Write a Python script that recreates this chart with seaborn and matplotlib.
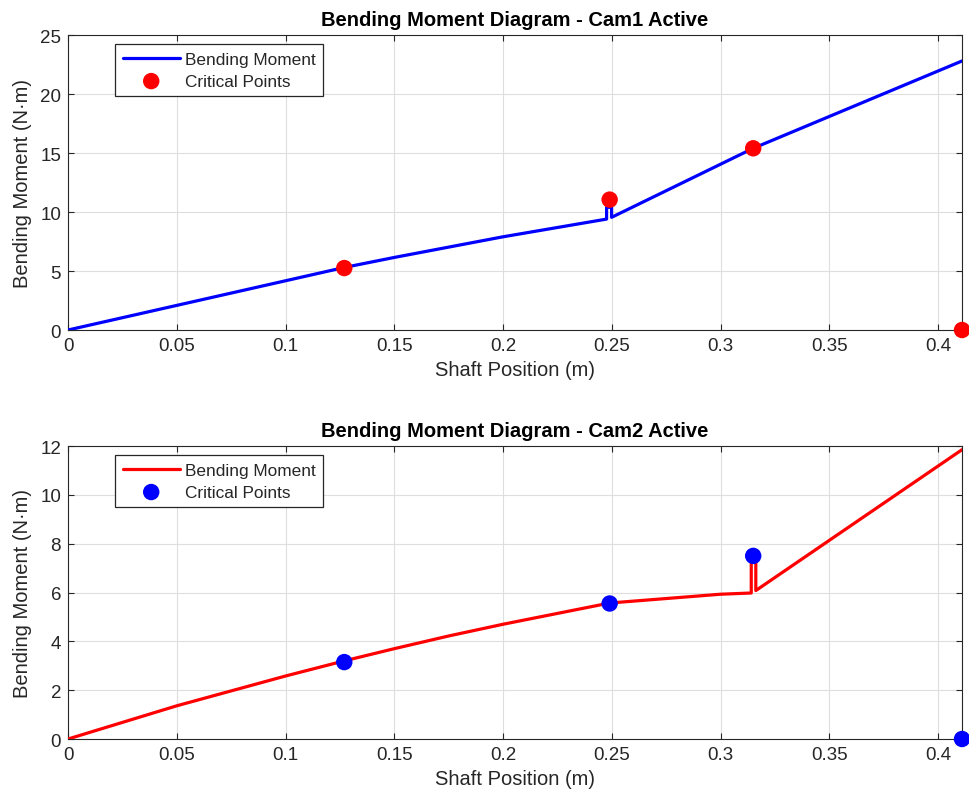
import numpy as np
import pandas as pd
import matplotlib
matplotlib.use("Agg")
import matplotlib.pyplot as plt
import seaborn as sns

# Cam1 active: bending moment along the shaft (N·m)
pos_cam1 = [0.0, 0.127, 0.15, 0.2, 0.2476, 0.2476, 0.2499, 0.2499, 0.315, 0.411]
moment_cam1 = [0.0, 5.3, 6.15, 7.9, 9.4, 10.4, 10.4, 9.55, 15.4, 22.8]
crit_pos_cam1 = [0.127, 0.249, 0.315, 0.411]
crit_moment_cam1 = [5.25, 11.05, 15.4, 0.0]

# Cam2 active
pos_cam2 = [0.0, 0.05, 0.1, 0.127, 0.15, 0.175, 0.2, 0.249, 0.3, 0.3141, 0.3141, 0.3162, 0.3162, 0.411]
moment_cam2 = [0.0, 1.36, 2.58, 3.2, 3.7, 4.22, 4.7, 5.57, 5.93, 5.98, 7.4, 7.4, 6.08, 11.85]
crit_pos_cam2 = [0.127, 0.249, 0.315, 0.411]
crit_moment_cam2 = [3.15, 5.55, 7.5, 0.0]

x_ticks = [0, 0.05, 0.1, 0.15, 0.2, 0.25, 0.3, 0.35, 0.4]
x_tick_labels = ["0", "0.05", "0.1", "0.15", "0.2", "0.25", "0.3", "0.35", "0.4"]

sns.set_theme(style="whitegrid")
plt.rcParams['font.family'] = ['Liberation Sans', 'DejaVu Sans']

TXT = '#262626'


def draw_panel(ax, pos, moment, cpos, cmom, line_color, dot_color, title, ymax, yticks):
    line_df = pd.DataFrame({"pos": pos, "moment": moment})
    crit_df = pd.DataFrame({"pos": cpos, "moment": cmom})

    sns.lineplot(data=line_df, x="pos", y="moment", ax=ax, color=line_color, linewidth=2.3,
                 estimator=None, sort=False, label="Bending Moment", zorder=3)
    sns.scatterplot(data=crit_df, x="pos", y="moment", ax=ax, color=dot_color, s=140,
                    edgecolor='none', label="Critical Points", zorder=4, clip_on=False)

    ax.set_xlim(0, 0.411)
    ax.set_ylim(0, ymax)
    ax.set_xticks(x_ticks)
    ax.set_xticklabels(x_tick_labels)
    ax.set_yticks(yticks)
    ax.set_yticklabels([str(t) for t in yticks])

    ax.set_facecolor('white')
    ax.grid(True, color='#dedede', linewidth=0.8)
    for side in ['top', 'bottom', 'left', 'right']:
        ax.spines[side].set_visible(True)
        ax.spines[side].set_color(TXT)
        ax.spines[side].set_linewidth(0.8)
    ax.tick_params(direction='in', length=4.5, width=0.8, colors=TXT, labelsize=13.5,
                   top=True, right=True, bottom=True, left=True, pad=5)

    ax.set_title(title, fontsize=14.5, fontweight='bold', color='black', pad=7)
    ax.set_xlabel("Shaft Position (m)", fontsize=14.5, color=TXT, labelpad=4)
    ax.set_ylabel("Bending Moment (N·m)", fontsize=14.5, color=TXT, labelpad=6)

    leg = ax.legend(loc='upper left', bbox_to_anchor=(0.0526, 0.97), borderaxespad=0,
                    fontsize=12.4, frameon=True, fancybox=False, edgecolor='#262626',
                    handlelength=3.3, handletextpad=0.3, borderpad=0.45, labelspacing=0.4)
    leg.get_frame().set_linewidth(0.9)
    leg.get_frame().set_facecolor('white')
    leg.get_frame().set_alpha(1)


fig = plt.figure(figsize=(9.69, 8.04), dpi=100)
fig.patch.set_facecolor('white')

ax1 = fig.add_axes([0.0702, 0.5883, 0.9226, 0.3669])
ax2 = fig.add_axes([0.0702, 0.0796, 0.9226, 0.3644])

draw_panel(ax1, pos_cam1, moment_cam1, crit_pos_cam1, crit_moment_cam1,
           '#0000ff', '#ff0000', "Bending Moment Diagram - Cam1 Active", 25, [0, 5, 10, 15, 20, 25])
draw_panel(ax2, pos_cam2, moment_cam2, crit_pos_cam2, crit_moment_cam2,
           '#ff0000', '#0000ff', "Bending Moment Diagram - Cam2 Active", 12, [0, 2, 4, 6, 8, 10, 12])

fig.savefig("out.png", dpi=100, facecolor='white')
